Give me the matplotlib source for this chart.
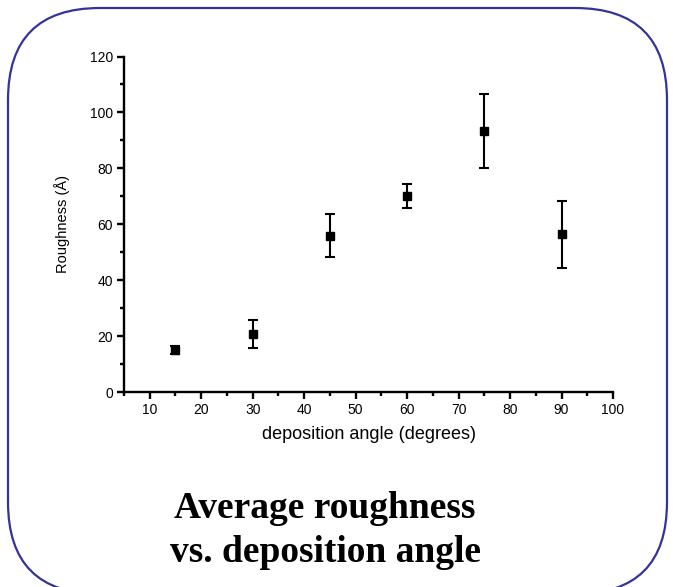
import matplotlib
matplotlib.use("Agg")
from matplotlib import pyplot as plt
from matplotlib.patches import FancyBboxPatch
from matplotlib.ticker import MultipleLocator

# data
angles = [15, 30, 45, 60, 75, 90]
roughness = [15.2, 21.0, 56.0, 70.3, 93.3, 56.5]
roughness_err = [1.4, 5.0, 7.7, 4.3, 13.2, 12.0]

W, H = 673, 587
fig = plt.figure(figsize=(W / 100, H / 100), dpi=100)
fig.patch.set_facecolor('white')

# rounded frame drawn in pixel coordinates (y measured from the bottom)
bg = fig.add_axes([0, 0, 1, 1])
bg.set_xlim(0, W)
bg.set_ylim(0, H)
bg.axis('off')
frame = FancyBboxPatch((8, -7), 659, 586, boxstyle="round,pad=0,rounding_size=92",
                       fill=False, edgecolor='#333399', linewidth=1.6)
bg.add_patch(frame)
bg.text(325, H - 518, "Average roughness", ha='center', va='baseline',
        family='Liberation Serif', fontweight='bold', fontsize=27)
bg.text(325, H - 562, "vs. deposition angle", ha='center', va='baseline',
        family='Liberation Serif', fontweight='bold', fontsize=27)

ax = fig.add_axes([124 / W, 1 - 392.3 / H, (613 - 124) / W, (392.3 - 56.5) / H])
ax.errorbar(angles, roughness, yerr=roughness_err, fmt='s', color='black',
            markersize=6, elinewidth=1.5, capsize=3.5, capthick=1.5)
ax.set_xlim(5, 100)
ax.set_ylim(0, 120)
ax.xaxis.set_major_locator(MultipleLocator(10))
ax.xaxis.set_minor_locator(MultipleLocator(5))
ax.yaxis.set_major_locator(MultipleLocator(20))
ax.yaxis.set_minor_locator(MultipleLocator(10))
for s in ['top', 'right']:
    ax.spines[s].set_visible(False)
for s in ['left', 'bottom']:
    ax.spines[s].set_linewidth(1.7)
ax.tick_params(which='major', direction='out', length=5, width=1.7, labelsize=10, pad=3)
ax.tick_params(which='minor', direction='out', length=3, width=1.7)
for lab in ax.get_xticklabels() + ax.get_yticklabels():
    lab.set_family('Liberation Sans')
ax.set_xlabel("deposition angle (degrees)", family='Liberation Sans', fontsize=13, labelpad=6)
ax.set_ylabel("Roughness (Å)", family='Liberation Sans', fontsize=10.5, labelpad=14)
ax.patch.set_alpha(0)

fig.savefig("out.png", dpi=100)
